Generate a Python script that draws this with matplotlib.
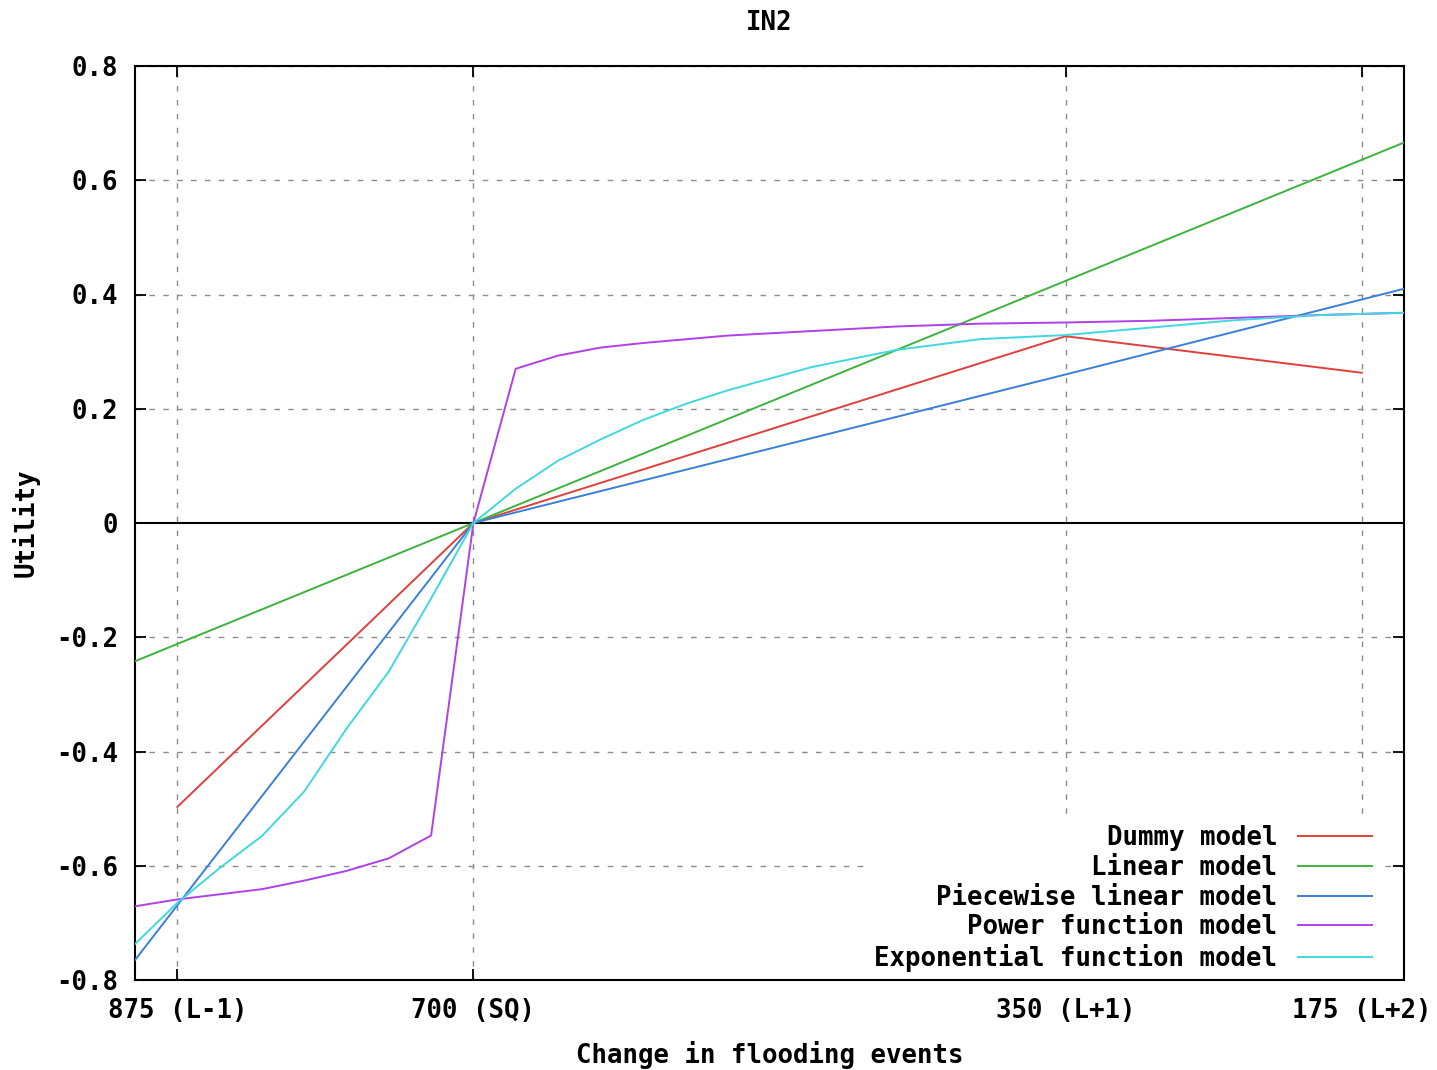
import matplotlib
matplotlib.use("Agg")
import matplotlib.pyplot as plt

# x values are flooding events (axis runs from 900 down to 150)
tick_pos = [875, 700, 350, 175]
tick_labels = ["875 (L-1)", "700 (SQ)", "350 (L+1)", "175 (L+2)"]

dummy_x = [875, 700, 350, 175]
dummy_y = [-0.497, 0.0, 0.327, 0.263]

linear_x = [900, 700, 150]
linear_y = [-0.242, 0.0, 0.666]

piece_x = [900, 700, 350, 150]
piece_y = [-0.765, 0.0, 0.26, 0.41]

power_x = [900, 875, 850, 825, 800, 775, 750, 725, 700, 675, 650, 625, 600,
           550, 500, 450, 400, 350, 300, 250, 200, 150]
power_y = [-0.671, -0.659, -0.650, -0.641, -0.626, -0.609, -0.587, -0.547, 0.0,
           0.270, 0.293, 0.307, 0.315, 0.328, 0.336, 0.344, 0.349, 0.351,
           0.354, 0.359, 0.364, 0.368]

expo_x = [900, 875, 850, 825, 800, 775, 750, 725, 700, 675, 650, 625, 600,
          575, 550, 500, 450, 400, 350, 300, 250, 200, 150]
expo_y = [-0.737, -0.665, -0.604, -0.548, -0.470, -0.36, -0.26, -0.132, 0.0,
          0.06, 0.109, 0.146, 0.18, 0.208, 0.232, 0.273, 0.303, 0.322,
          0.329, 0.342, 0.355, 0.364, 0.368]

series = [
    ("Dummy model", dummy_x, dummy_y, "#e0403c"),
    ("Linear model", linear_x, linear_y, "#3cb43c"),
    ("Piecewise linear model", piece_x, piece_y, "#3a7fd8"),
    ("Power function model", power_x, power_y, "#b040e8"),
    ("Exponential function model", expo_x, expo_y, "#40d8e0"),
]

yt = [-0.8, -0.6, -0.4, -0.2, 0, 0.2, 0.4, 0.6, 0.8]

plt.rcParams["font.family"] = ["DejaVu Sans Mono"]
plt.rcParams["font.weight"] = "bold"
fs = 18.5

fig = plt.figure(figsize=(14.37, 10.70), dpi=100)
ax = fig.add_axes([135 / 1437, 1 - 980 / 1070, (1404 - 135) / 1437, (980 - 66) / 1070])

for name, xs, ys, col in series:
    ax.plot(xs, ys, color=col, lw=1.4, label=name, zorder=3)

# grid drawn by hand so the legend box can sit over it but under the ticks
grid_kw = dict(color="#8c8c8c", linestyle=(0, (4, 6)), lw=1.0, zorder=1)
for xv in tick_pos:
    ax.axvline(xv, **grid_kw)
for yv in yt:
    if yv != 0:
        ax.axhline(yv, **grid_kw)
ax.axhline(0, color="black", lw=1.5, zorder=2.2)

ax.set_xlim(900, 150)
ax.set_ylim(-0.8, 0.8)
ax.set_xticks(tick_pos)
ax.set_xticklabels(tick_labels)
ax.set_yticks(yt)
ax.set_yticklabels(["0" if v == 0 else "%.1f" % v for v in yt])

ax.tick_params(direction="in", top=True, right=True, length=8, width=1.3,
               labelsize=fs)
ax.tick_params(axis="x", pad=13)
ax.tick_params(axis="y", pad=12)
for sp in ax.spines.values():
    sp.set_linewidth(1.5)

ax.set_title("IN2", fontsize=fs, fontweight="bold", pad=26)
ax.set_xlabel("Change in flooding events", fontsize=fs, fontweight="bold", labelpad=12)
ax.set_ylabel("Utility", fontsize=fs, fontweight="bold", labelpad=12)

leg = ax.legend(loc="lower right", bbox_to_anchor=(0.981, 0.0), markerfirst=False,
                fontsize=fs, frameon=True, fancybox=False, framealpha=1.0,
                handlelength=2.9, handletextpad=0.8, labelspacing=0.15,
                borderpad=0.3, borderaxespad=0.0)
leg.get_frame().set_edgecolor("none")
leg.get_frame().set_facecolor("white")
leg.set_zorder(2)

fig.savefig("out.png", dpi=100)
